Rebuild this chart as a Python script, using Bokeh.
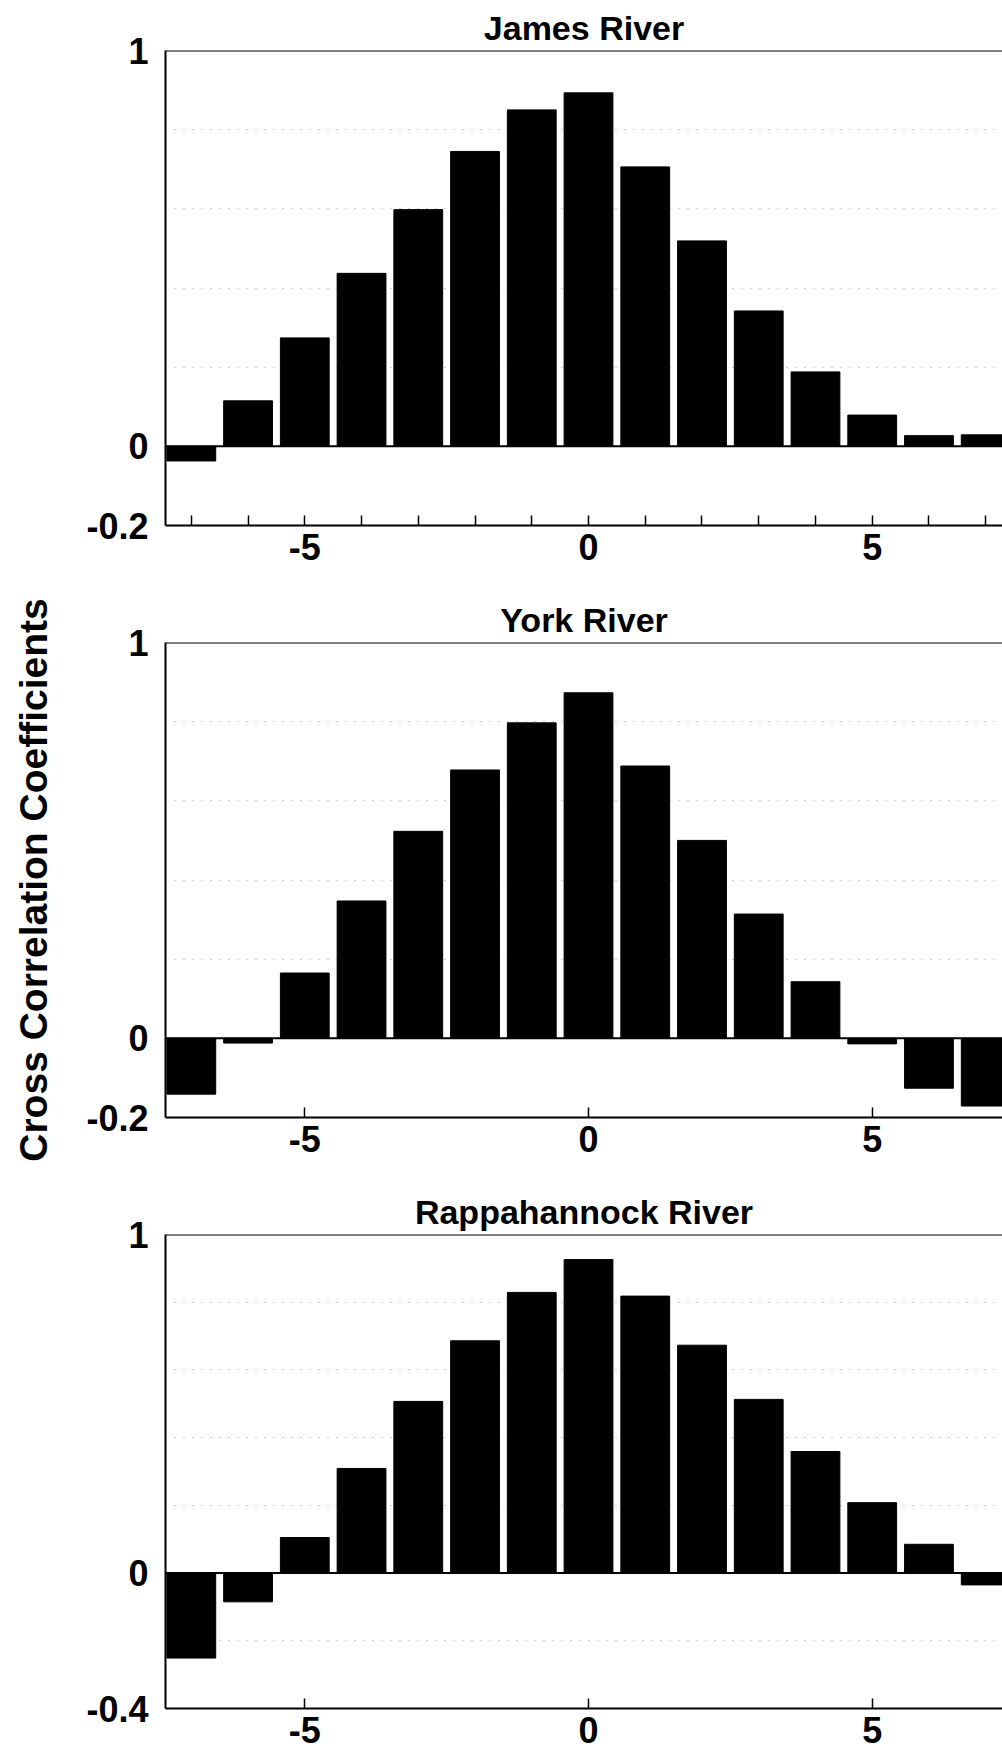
from bokeh.plotting import figure
from bokeh.layouts import column
from bokeh.models import FixedTicker, Span, Range1d, CustomJSTickFormatter
from bokeh.embed import file_html
from bokeh.resources import INLINE

# ---- data ----
lags = list(range(-7, 8))
james = [-0.037, 0.115, 0.274, 0.437, 0.598, 0.745, 0.850, 0.893, 0.706, 0.519, 0.342, 0.188, 0.079, 0.027, 0.029]
york = [-0.141, -0.012, 0.165, 0.347, 0.523, 0.678, 0.797, 0.873, 0.688, 0.500, 0.314, 0.143, -0.014, -0.126, -0.171]
rappahannock = [-0.251, -0.085, 0.105, 0.309, 0.507, 0.686, 0.829, 0.926, 0.818, 0.673, 0.513, 0.359, 0.208, 0.085, -0.035]
titles = ["James River", "York River", "Rappahannock River"]
series = [james, york, rappahannock]
y_ranges = [(-0.2, 1.0), (-0.2, 1.0), (-0.4, 1.0)]
y_ticks = [[-0.2, 0, 1], [-0.2, 0, 1], [-0.4, 0, 1]]
grid_ticks = [[0.2, 0.4, 0.6, 0.8], [0.2, 0.4, 0.6, 0.8], [-0.2, 0.2, 0.4, 0.6, 0.8]]
x_ticks = [-5, 0, 5]
x_minor = [[-7, -6, -4, -3, -2, -1, 1, 2, 3, 4, 6, 7], [], []]
y_title = "Cross Correlation Coefficients"

FONT = "Liberation Sans"
heights = [592, 592, 572]
bottoms = [67, 67, 48]

figs = []
for i in range(3):
    p = figure(width=1002, height=heights[i],
               x_range=Range1d(-7.455, 7.296), y_range=Range1d(*y_ranges[i]),
               output_backend="svg", toolbar_location=None,
               min_border_left=165, min_border_right=0,
               min_border_top=50, min_border_bottom=bottoms[i])
    p.outline_line_color = None
    p.background_fill_color = "white"
    p.border_fill_color = "white"

    p.vbar(x=lags, top=series[i], width=0.86, fill_color="black", line_color="black")

    p.title.text = titles[i]
    p.title.align = "center"
    p.title.text_font = FONT
    p.title.text_font_size = "34px"
    p.title.text_font_style = "bold"
    p.title.text_color = "black"
    p.title.standoff = 8

    # x axis
    xa = p.xaxis[0]
    xa.ticker = FixedTicker(ticks=x_ticks, minor_ticks=x_minor[i])
    xa.formatter = CustomJSTickFormatter(code="return tick.toFixed(0);")
    xa.major_tick_in = 10
    xa.major_tick_out = 0
    xa.minor_tick_in = 10
    xa.minor_tick_out = 0
    xa.axis_line_width = 2
    xa.axis_line_color = "black"
    xa.major_tick_line_color = "black"
    xa.minor_tick_line_color = "black"
    xa.major_tick_line_width = 1.5
    xa.minor_tick_line_width = 1.5
    xa.major_label_text_font = FONT
    xa.major_label_text_font_size = "36px"
    xa.major_label_text_font_style = "bold"
    xa.major_label_text_color = "black"
    xa.major_label_standoff = 8

    # y axis
    ya = p.yaxis[0]
    ya.ticker = FixedTicker(ticks=y_ticks[i])
    ya.formatter = CustomJSTickFormatter(
        code="if (Math.abs(tick) < 1e-9) {return '0';} if (Math.abs(tick-1) < 1e-9) {return '1';} return tick.toFixed(1);")
    ya.major_tick_in = 0
    ya.major_tick_out = 0
    ya.minor_tick_in = 0
    ya.minor_tick_out = 0
    ya.axis_line_width = 2
    ya.axis_line_color = "black"
    ya.major_label_text_font = FONT
    ya.major_label_text_font_size = "36px"
    ya.major_label_text_font_style = "bold"
    ya.major_label_text_color = "black"
    ya.major_label_standoff = 17
    if i == 1:
        ya.axis_label = y_title
        ya.axis_label_text_font = FONT
        ya.axis_label_text_font_size = "39px"
        ya.axis_label_text_font_style = "bold"
        ya.axis_label_text_color = "black"
        ya.axis_label_standoff = 28

    # grid
    p.xgrid.visible = False
    p.ygrid[0].ticker = FixedTicker(ticks=grid_ticks[i])
    p.ygrid.grid_line_color = "#a0a0a0"
    p.ygrid.grid_line_dash = "1 8"
    p.ygrid.grid_line_width = 1

    p.add_layout(Span(location=0, dimension="width", line_color="black", line_width=2))
    p.add_layout(Span(location=y_ranges[i][1], dimension="width", line_color="black", line_width=2))
    figs.append(p)

layout = column(*figs)
open("out.html", "w").write(file_html(layout, INLINE))
